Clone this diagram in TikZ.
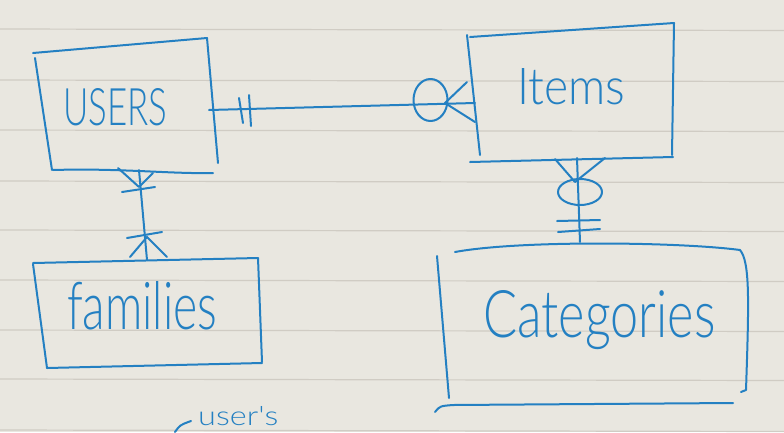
\documentclass[tikz,border=0pt]{standalone}
\usepackage{graphicx}
\usepackage{fontspec}
\newfontfamily\handfont{Lato Light}
\definecolor{ink}{RGB}{36,128,194}
\definecolor{paper}{RGB}{233,231,224}
\definecolor{rulec}{RGB}{208,204,196}
\begin{document}
\begin{tikzpicture}[x=1pt,y=-1pt,
  pen/.style={ink, line width=2pt, line cap=round, line join=round},
  hand/.style={ink, inner sep=0pt, anchor=base west, font=\handfont}]
\fill[paper] (0,0) rectangle (784,432);
\useasboundingbox (0,0) rectangle (784,432);
\foreach \y in {29,80,130,181,230,280,330,379,430}
  \draw[rulec, line width=1.2pt] (0,\y) -- (784,\y+1.5);

% ---- entity texts ----
\node[hand] (users) at (63,125) {\resizebox{104pt}{37pt}{USERS}};
\node[hand] (items) at (517,104) {\resizebox{108pt}{36pt}{Items}};
\node[hand] (families) at (67,329) {\resizebox{150pt}{48pt}{families}};
\node[hand] (categories) at (483,337) {\resizebox{232pt}{47pt}{Categories}};
\node[hand] (note) at (198,425) {\resizebox{80pt}{19pt}{user's}};

% ---- box outlines ----
% USERS
\draw[pen] (33,53) -- (207,38);
\draw[pen] (35,58) -- (52,170);
\draw[pen] (207,38) -- (218,163);
\draw[pen] (53,170) .. controls (120,168) and (170,174) .. (213,173);
% Items
\draw[pen] (470,37) -- (674,23);
\draw[pen] (467,35) -- (480,155);
\draw[pen] (674,23) -- (672,155);
\draw[pen] (470,162) -- (673,157);
% families
\draw[pen] (33,263) -- (258,258);
\draw[pen] (33,264) -- (47,368);
\draw[pen] (258,258) -- (262,362);
\draw[pen] (47,368) -- (262,363);
% Categories
\draw[pen] (455,252) .. controls (520,240) and (680,242) .. (740,250);
\draw[pen] (740,250) .. controls (750,262) and (749,300) .. (746,390) -- (741,392);
\draw[pen] (437,256) -- (449,398);
\draw[pen] (435,412) .. controls (440,406) .. (453,405) -- (733,403);

% ---- connector coordinates ----
\coordinate (uR) at (209,110);
\coordinate (iL) at (475,103);
\coordinate (uB) at (139,170);
\coordinate (fT) at (147,260);
\coordinate (iB) at (577,158);
\coordinate (cT) at (580,242);

% USERS -- Items : one and only one  ..  zero or many
\draw[pen] (uR) -- (iL);
\draw[pen] (239,98) -- (243,123);
\draw[pen] (249,95) -- (251,126);
\draw[pen] (430.5,100) ellipse [x radius=17, y radius=21];
\draw[pen] (467,82) -- (445,103) -- (475,122);

% USERS -- families : one or many .. one or many
\draw[pen] (uB) -- (fT);
\draw[pen] (118,168) -- (139,187) -- (153,173);
\draw[pen] (122,192) -- (155,187);
\draw[pen] (127,238) -- (162,232);
\draw[pen] (130,257) -- (147,237) -- (167,257);

% Items -- Categories : zero or many .. one and only one
\draw[pen] (iB) -- (cT);
\draw[pen] (555,159) -- (575,182) -- (605,158);
\draw[pen] (580,192) ellipse [x radius=22, y radius=13];
\draw[pen] (557,221) -- (600,220);
\draw[pen] (558,232) -- (600,229);

% small hook before the note
\draw[pen] (175,432) .. controls (180,425) .. (191,421);
\end{tikzpicture}
\end{document}
